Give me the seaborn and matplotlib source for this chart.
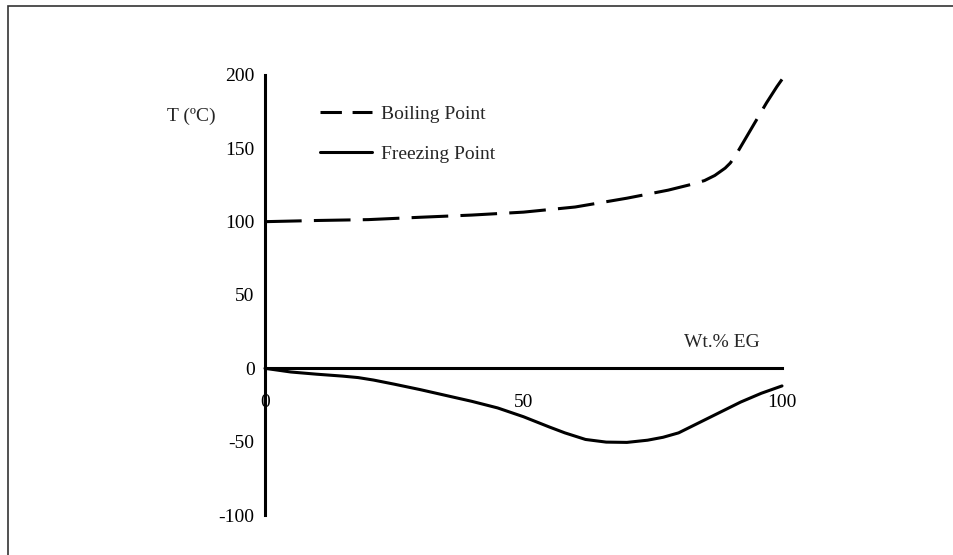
import pandas as pd
import seaborn as sns
import matplotlib.pyplot as plt
from matplotlib.patches import Rectangle

# values
wt_boil = [0, 10, 20, 30, 40, 50, 60, 70, 78, 82, 85, 87, 89, 90, 91, 92, 93, 95, 97, 99, 100]
t_boil = [100, 100.8, 101.4, 103, 104.5, 106.5, 110, 116, 121.5, 125, 128, 131.5, 136.5, 140,
          145, 151, 157, 169, 181, 192, 197]

wt_freeze = [0, 5, 10, 15, 18, 21, 25, 30, 35, 40, 45, 50, 55, 58, 62, 66, 70, 74, 77, 80,
             84, 88, 92, 96, 100]
t_freeze = [0, -2.5, -4, -5.3, -6.3, -8, -10.8, -14.5, -18.5, -22.5, -27, -33, -40, -44,
            -48.5, -50.3, -50.5, -49, -47, -44, -37, -30, -23, -17, -12]

series = ["Boiling Point", "Freezing Point"]
x_ticks = [0, 50, 100]
y_ticks = [-100, -50, 0, 50, 100, 150, 200]

df = pd.concat([
    pd.DataFrame({"wt": wt_boil, "T": t_boil, "curve": series[0]}),
    pd.DataFrame({"wt": wt_freeze, "T": t_freeze, "curve": series[1]}),
], ignore_index=True)

sns.set_style("white")
plt.rcParams['font.family'] = ['Liberation Serif', 'DejaVu Serif']
plt.rcParams['font.size'] = 14
plt.rcParams['axes.unicode_minus'] = False

fig = plt.figure(figsize=(9.54, 5.55), dpi=100)
ax = fig.add_axes([265 / 954, 1 - 515 / 555, (782 - 265) / 954, (515 - 75) / 555])

sns.lineplot(data=df, x="wt", y="T", style="curve", style_order=series,
             dashes={series[0]: (12, 4), series[1]: ""}, color="black",
             linewidth=2.2, sort=False, estimator=None, ax=ax)
for ln in ax.lines:
    ln.set_clip_on(False)
    ln.set_solid_joinstyle("round")
    ln.set_dash_joinstyle("round")

ax.set_xlim(0, 100)
ax.set_ylim(-100, 200)
ax.set_xticks(x_ticks)
ax.set_yticks(y_ticks)

for s in ["top", "right"]:
    ax.spines[s].set_visible(False)
ax.spines["left"].set_position(("data", 0))
ax.spines["bottom"].set_position(("data", 0))
for s in ["left", "bottom"]:
    ax.spines[s].set_linewidth(2.2)
    ax.spines[s].set_color("black")

ax.tick_params(axis="x", direction="inout", length=9, width=2, pad=14, labelsize=14, colors="black")
ax.tick_params(axis="y", direction="out", length=3.5, width=2, pad=4, labelsize=14, colors="black")

ax.set_ylabel("T (ºC)", rotation=0, ha="center", va="center", fontsize=14)
ax.yaxis.set_label_coords(-0.143, 0.907)
ax.set_xlabel("Wt.% EG", ha="center", va="center", fontsize=14)
ax.xaxis.set_label_coords(0.884, 0.393)

handles, labels = ax.get_legend_handles_labels()
leg = ax.legend(handles, labels, loc="upper left", bbox_to_anchor=(0.106, 0.931),
                frameon=False, handlelength=2.7, handletextpad=0.45,
                labelspacing=1.15, borderpad=0, borderaxespad=0, fontsize=14)
leg_lines = leg.get_lines()
for h in leg_lines:
    h.set_linewidth(2.2)
    h.set_color("black")
leg_lines[0].set_dashes((7, 3.5))

# outer frame of the original figure (only left and top edges visible)
fig.patches.append(Rectangle((8 / 954, -0.5), 2, 0.5 + 1 - 6 / 555, fill=False,
                             edgecolor="#333333", linewidth=1.2,
                             transform=fig.transFigure, figure=fig))

fig.savefig("out.png", dpi=100)
